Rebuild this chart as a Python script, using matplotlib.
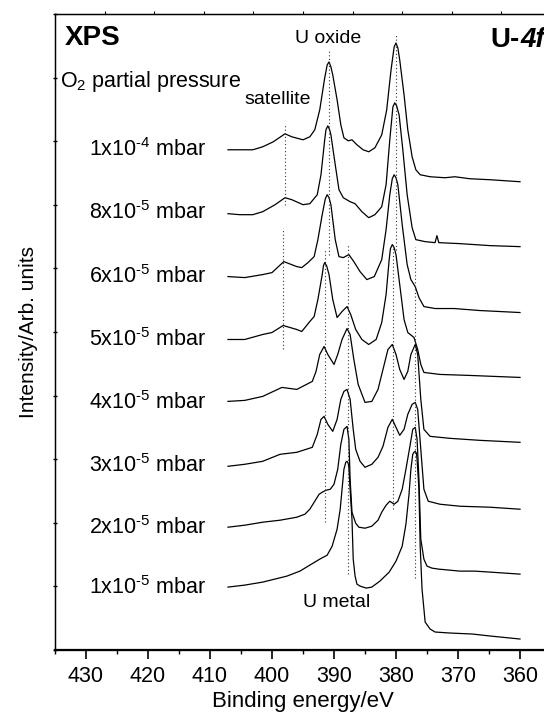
import numpy as np
import matplotlib
matplotlib.use('Agg')
import matplotlib.pyplot as plt

plt.rcParams['font.family'] = ['Liberation Sans', 'DejaVu Sans']
plt.rcParams['mathtext.fontset'] = 'custom'
plt.rcParams['mathtext.rm'] = 'Liberation Sans'
plt.rcParams['mathtext.it'] = 'Liberation Sans:italic'
plt.rcParams['mathtext.bf'] = 'Liberation Sans:bold'

# XPS U-4f spectra, stacked (binding energy in eV, intensity in arb. units)
pressures = ['1x10$^{\u20104}$ mbar', '8x10$^{\u20105}$ mbar', '6x10$^{\u20105}$ mbar',
             '5x10$^{\u20105}$ mbar', '4x10$^{\u20105}$ mbar', '3x10$^{\u20105}$ mbar',
             '2x10$^{\u20105}$ mbar', '1x10$^{\u20105}$ mbar']

e_1e4 = [407.1, 405.2, 403.1, 401.5, 399.8, 397.9, 396.8, 395.0, 393.9, 393.1, 392.3, 391.5, 391.1,
         390.8, 390.5, 390.2, 389.5, 388.9, 388.4, 387.7, 387.1, 386.3, 385.3, 384.4, 383.4, 382.3,
         381.5, 380.8, 380.3, 380.0, 379.7, 379.4, 378.7, 378.1, 377.4, 376.8, 376.1, 374.5, 372.1,
         370.5, 368.1, 364.8, 360.0]
i_1e4 = [501, 501, 501, 504, 509, 517, 514, 511, 514, 521, 541, 573, 586,
         589, 584, 576, 551, 526, 513, 510, 511, 506, 501, 499, 503, 516,
         541, 581, 604, 608, 603, 591, 556, 521, 494, 481, 476, 474, 473,
         474, 472, 471, 469]

e_8e5 = [407.1, 405.2, 403.1, 401.5, 399.5, 397.9, 396.8, 395.0, 393.9, 392.7, 392.1, 391.5, 391.3,
         391.0, 390.7, 390.5, 389.8, 389.2, 388.5, 387.4, 386.6, 385.5, 384.4, 383.4, 382.3, 381.6,
         381.0, 380.5, 380.2, 379.9, 379.5, 378.9, 378.2, 377.4, 376.8, 375.3, 373.7, 373.4, 373.1,
         369.7, 364.8, 360.0]
i_8e5 = [437, 436, 436, 439, 446, 453, 451, 446, 447, 456, 476, 511, 521,
         525, 521, 516, 486, 461, 453, 449, 447, 439, 433, 436, 444, 466,
         511, 544, 548, 545, 536, 501, 456, 423, 411, 409, 408, 415, 408,
         407, 405, 404]

e_6e5 = [407.1, 404.4, 401.5, 400.0, 398.1, 396.0, 395.2, 394.2, 393.2, 392.6, 391.9, 391.4, 391.1,
         390.8, 390.5, 389.8, 389.2, 388.5, 387.6, 386.8, 385.8, 384.7, 383.5, 382.3, 381.6, 381.0,
         380.6, 380.3, 380.0, 379.7, 379.0, 378.2, 377.6, 376.9, 376.3, 375.5, 373.7, 370.6, 366.5,
         360.0]
i_6e5 = [374, 373, 376, 378, 389, 384, 383, 388, 394, 411, 436, 452, 456,
         453, 446, 411, 394, 393, 396, 389, 379, 371, 374, 391, 421, 456,
         472, 476, 473, 466, 426, 386, 371, 364, 353, 344, 342, 342, 340,
         338]

e_5e5 = [407.1, 404.4, 401.5, 400.0, 398.2, 396.0, 395.2, 393.9, 393.2, 392.6, 391.9, 391.7, 391.5,
         391.2, 390.8, 390.2, 389.5, 388.7, 387.9, 387.3, 386.5, 385.5, 384.4, 383.2, 382.3, 381.6,
         381.1, 380.9, 380.6, 380.3, 380.0, 379.4, 378.7, 378.1, 377.1, 376.5, 376.0, 375.5, 372.9,
         368.1, 360.0]
i_5e5 = [311, 311, 316, 318, 325, 321, 319, 329, 334, 351, 376, 385, 388,
         385, 376, 351, 333, 339, 344, 336, 321, 311, 306, 311, 328, 356,
         391, 402, 406, 403, 396, 366, 331, 318, 313, 301, 286, 278, 276,
         275, 273]

e_4e5 = [407.1, 404.4, 401.5, 398.4, 396.0, 393.5, 392.9, 392.3, 391.6, 391.0, 390.0, 389.4, 388.7,
         387.9, 387.4, 386.8, 386.1, 385.0, 383.9, 382.9, 381.9, 381.3, 380.6, 380.0, 379.4, 378.7,
         378.1, 377.6, 376.9, 376.5, 376.0, 375.5, 374.5, 371.3, 366.5, 360.0]
i_4e5 = [249, 250, 254, 263, 261, 269, 279, 296, 304, 296, 286, 296, 311,
         322, 316, 291, 266, 248, 249, 261, 286, 301, 306, 296, 281, 271,
         279, 296, 306, 296, 251, 221, 214, 212, 210, 208]

e_3e5 = [407.1, 404.4, 401.5, 398.7, 396.0, 393.5, 392.7, 392.1, 391.6, 391.0, 390.2, 389.5, 388.9,
         388.4, 387.9, 387.4, 386.9, 386.5, 385.8, 385.0, 383.9, 382.9, 382.1, 381.3, 380.6, 380.0,
         379.4, 378.7, 378.1, 377.4, 376.9, 376.5, 376.0, 375.5, 374.8, 372.9, 369.7, 364.8, 360.0]
i_3e5 = [184, 186, 189, 196, 198, 203, 216, 231, 234, 226, 219, 231, 251,
         259, 261, 251, 221, 201, 189, 183, 186, 193, 204, 223, 231, 223,
         215, 221, 236, 246, 248, 241, 201, 161, 149, 146, 144, 143, 141]

e_2e5 = [407.1, 404.4, 401.5, 398.7, 396.0, 394.7, 393.9, 393.1, 392.4, 391.9, 391.3, 390.6, 390.0,
         389.4, 388.9, 388.4, 387.9, 387.6, 387.4, 387.1, 386.5, 386.0, 385.0, 383.9, 382.9, 382.3,
         381.6, 381.0, 380.3, 379.7, 379.0, 378.4, 377.7, 377.3, 376.9, 376.6, 376.3, 376.0, 375.5,
         375.0, 374.2, 373.1, 369.7, 367.3, 364.8, 360.0]
i_2e5 = [123, 125, 128, 130, 133, 136, 141, 149, 156, 158, 160, 161, 166,
         181, 206, 221, 224, 211, 171, 138, 127, 123, 122, 124, 130, 138,
         145, 149, 146, 149, 161, 181, 206, 221, 223, 211, 171, 111, 91,
         84, 82, 81, 79, 79, 78, 76]

e_1e5 = [407.1, 404.4, 401.5, 397.6, 395.5, 393.9, 392.3, 391.1, 390.3, 389.5, 389.0, 388.7, 388.4,
         388.1, 387.9, 387.7, 387.6, 387.4, 387.1, 386.9, 386.6, 386.3, 385.8, 384.8, 383.9, 382.6,
         381.1, 380.0, 379.0, 378.4, 377.9, 377.6, 377.3, 377.1, 376.9, 376.7, 376.6, 376.3, 376.1,
         375.8, 375.3, 374.5, 373.7, 371.3, 367.7, 364.8, 360.0]
i_1e5 = [63, 65, 68, 74, 79, 85, 91, 95, 104, 121, 141, 161, 181,
         188, 189, 187, 183, 161, 131, 91, 74, 66, 64, 62, 63, 69,
         78, 89, 104, 126, 156, 181, 196, 198, 199, 197, 191, 161, 104,
         61, 28, 21, 18, 17, 16, 14, 11]

energies = [e_1e4, e_8e5, e_6e5, e_5e5, e_4e5, e_3e5, e_2e5, e_1e5]
intensities = [i_1e4, i_8e5, i_6e5, i_5e5, i_4e5, i_3e5, i_2e5, i_1e5]
label_levels = [501, 438, 374, 311, 248, 185, 123, 63]

# dotted guide lines: energy, top and bottom intensity
guide_e = [397.9, 398.3, 390.8, 391.5, 380.0, 380.5, 387.8, 376.9]
guide_top = [526, 423, 601, 401, 616, 406, 406, 404]
guide_bottom = [446, 301, 396, 128, 401, 141, 76, 72]

fig = plt.figure(figsize=(5.44, 7.17), dpi=100)
ax = fig.add_axes([55 / 544, 67 / 717, 496 / 544, 636 / 717])

for e, i in zip(energies, intensities):
    ax.plot(e, i, color='black', lw=0.9)

for ge, gt, gb in zip(guide_e, guide_top, guide_bottom):
    ax.plot([ge, ge], [gb, gt], color='#333333', lw=0.8, ls=(0, (1, 2.2)))

for lab, lev in zip(pressures, label_levels):
    ax.text(410.5, lev, lab, ha='right', va='center', fontsize=15.5)

ax.text(433.4, 613, 'XPS', fontsize=20, fontweight='bold', va='center')
ax.text(434.2, 569, 'O$_2$ partial pressure', fontsize=15.5, va='center')
ax.text(399.1, 551, 'satellite', fontsize=14, ha='center', va='center')
ax.text(391.0, 612, 'U oxide', fontsize=14, ha='center', va='center')
ax.text(389.5, 48, 'U metal', fontsize=14, ha='center', va='center')
ax.text(364.8, 611, 'U-', fontsize=20, fontweight='bold', va='center')
ax.text(360.0, 611, '4f', fontsize=20, fontweight='bold', fontstyle='italic', va='center')

ax.set_xlim(435, 355)
ax.set_ylim(0, 637)
ax.set_xticks(np.arange(430, 355, -10))
ax.set_xticks(np.arange(435, 355, -5), minor=True)
ax.set_yticks(np.linspace(0, 637, 11))
ax.set_yticklabels([])
ax.tick_params(axis='x', which='major', direction='out', length=6.5, width=1.2, labelsize=15.5, pad=5)
ax.tick_params(axis='x', which='minor', direction='out', length=3, width=1.0)
ax.tick_params(axis='y', which='major', direction='inout', length=3, width=1.0)
ax.spines['bottom'].set_linewidth(1.6)
ax.spines['left'].set_linewidth(1.0)
ax.spines['top'].set_linewidth(1.0)

top = ax.twiny()
top.set_xlim(0, 10)
top.set_xticks(range(1, 10))
top.set_xticklabels([])
top.tick_params(axis='x', direction='out', length=2, width=0.8)

ax.set_xlabel('Binding energy/eV', fontsize=16, labelpad=3)
ax.set_ylabel('Intensity/Arb. units', fontsize=15, labelpad=7)

fig.savefig('out.png', dpi=100)
